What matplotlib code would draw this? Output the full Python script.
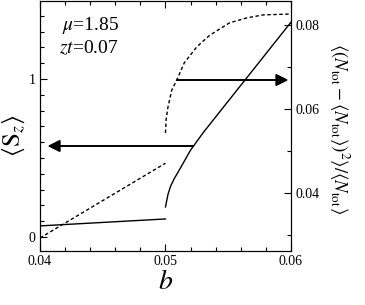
import matplotlib
matplotlib.use("Agg")
import matplotlib.pyplot as plt
from matplotlib.ticker import MultipleLocator

plt.rcParams['font.family'] = ['Liberation Serif', 'DejaVu Serif']
plt.rcParams['mathtext.fontset'] = 'stix'

# <S_z> (left axis), solid
b_sz_low = [0.040, 0.050]
sz_low = [0.070, 0.114]
b_sz_high = [0.0500, 0.0502, 0.0504, 0.0507, 0.0510, 0.0515, 0.0520,
             0.0530, 0.0540, 0.0560, 0.0580, 0.0600]
sz_high = [0.19, 0.27, 0.32, 0.37, 0.41, 0.48, 0.55,
           0.66, 0.76, 0.96, 1.16, 1.36]

# number fluctuation (right axis), dashed
b_fl_low = [0.040, 0.050]
fl_low = [0.0293, 0.0471]
b_fl_high = [0.0500, 0.05005, 0.0502, 0.0505, 0.0509, 0.0515, 0.0525,
             0.0535, 0.0551, 0.0565, 0.0578, 0.0600]
fl_high = [0.0543, 0.0575, 0.0605, 0.0645, 0.0669, 0.0710, 0.0748,
           0.0775, 0.0805, 0.0817, 0.0824, 0.0826]

fig = plt.figure(figsize=(3.65, 3.05), dpi=100)
ax = fig.add_axes([0.1096, 0.177, 0.6876, 0.8197])
ax2 = ax.twinx()

ax.plot(b_sz_low, sz_low, color='black', lw=1.0)
ax.plot(b_sz_high, sz_high, color='black', lw=1.0)
ax2.plot(b_fl_low, fl_low, color='black', lw=1.0, dashes=(2.5, 1.8))
ax2.plot(b_fl_high, fl_high, color='black', lw=1.0, dashes=(2.5, 1.8))

ax.set_xlim(0.04, 0.06)
ax.set_ylim(-0.089, 1.494)
ax2.set_ylim(0.0262, 0.0857)

ax.xaxis.set_major_locator(MultipleLocator(0.01))
ax.xaxis.set_minor_locator(MultipleLocator(0.002))
ax.yaxis.set_major_locator(MultipleLocator(1))
ax.yaxis.set_minor_locator(MultipleLocator(0.1))
ax2.yaxis.set_major_locator(MultipleLocator(0.02))
ax2.yaxis.set_minor_locator(MultipleLocator(0.01))
ax.xaxis.set_major_formatter(plt.FuncFormatter(lambda v, p: f'{v:.2f}'))
ax2.yaxis.set_major_formatter(plt.FuncFormatter(lambda v, p: f'{v:.2f}'))
ax.yaxis.set_major_formatter(plt.FuncFormatter(lambda v, p: f'{v:.0f}'))

ax.tick_params(which='both', direction='in', top=True, labelsize=10, pad=3)
ax.tick_params(which='major', length=5, width=0.8)
ax.tick_params(which='minor', length=3, width=0.8)
ax.tick_params(axis='y', right=False)
ax2.tick_params(which='both', direction='in', labelsize=10, pad=3)
ax2.tick_params(which='major', length=5, width=0.8)
ax2.tick_params(which='minor', length=3, width=0.8)

ax.set_xlabel('$b$', fontsize=20, labelpad=1)
ax.set_ylabel(r'$\langle \mathrm{S}_z \rangle$', fontsize=18)
ax.yaxis.set_label_coords(-0.05, 0.46)
ax2.set_ylabel(r'$\langle (N_{\rm tot}-\langle N_{\rm tot}\rangle)^2\rangle/\langle N_{\rm tot}\rangle$',
               fontsize=13.5, rotation=270)
ax2.yaxis.set_label_coords(1.24, 0.49)

ax.text(0.088, 0.904, r'$\mu$=1.85', transform=ax.transAxes, fontsize=14, va='center')
ax.text(0.076, 0.812, r'$zt$=0.07', transform=ax.transAxes, fontsize=14, va='center')

head = '-|>,head_length=0.6,head_width=0.3'
ax.annotate('', xy=(0.0406, 0.576), xytext=(0.0522, 0.576),
            arrowprops=dict(arrowstyle=head, color='black', lw=1.4,
                            mutation_scale=12, shrinkA=0, shrinkB=0))
ax2.annotate('', xy=(0.0598, 0.0669), xytext=(0.0509, 0.0669),
             arrowprops=dict(arrowstyle=head, color='black', lw=1.4,
                             mutation_scale=12, shrinkA=0, shrinkB=0))

fig.savefig('out.png', dpi=100)
